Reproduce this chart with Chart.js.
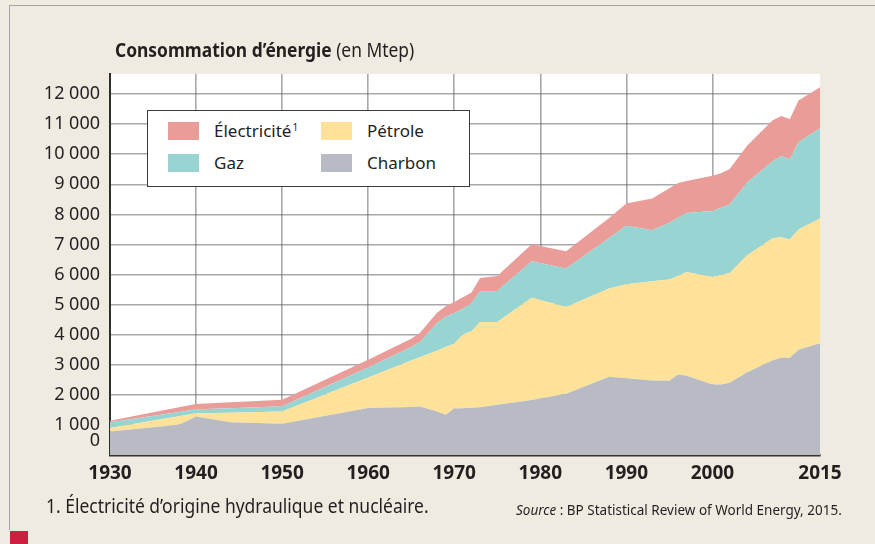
<!DOCTYPE html>
<html lang="fr">
<head>
<meta charset="utf-8">
<title>Consommation d'énergie</title>
<script src="https://cdn.jsdelivr.net/npm/chart.js@4.4.1/dist/chart.umd.min.js"></script>
<style>
  html, body { margin: 0; padding: 0; }
  body {
    width: 875px; height: 544px; position: relative; overflow: hidden;
    background: #efebe1; color: #231f20;
    font-family: 'Noto Sans', sans-serif;
  }
  .frame {
    position: absolute; left: 9px; top: 5px; right: 0; bottom: 14px;
    border-top: 1.5px solid #a4a4a4; border-left: 1.5px solid #a4a4a4;
  }
  .mark { position: absolute; left: 10px; top: 531px; width: 18px; height: 13px; background: #c9213f; }
  #chart { position: absolute; left: 0; top: 0; }
  #title {
    position: absolute; left: 115px; top: 41px; white-space: nowrap;
    font-size: 19px; line-height: 19px; transform: scaleX(0.915); transform-origin: left top;
  }
  #title b { font-weight: 700; }
  #legend {
    position: absolute; left: 147px; top: 110px; width: 301px; height: 64px;
    padding: 11px 0 0 20px;
    box-sizing: content-box; background: #fff; border: 1.5px solid #3a3a3a;
    display: grid; grid-auto-flow: column;
    grid-template-rows: 18px 18px; grid-template-columns: 153px auto;
    row-gap: 14px;
  }
  .item { display: flex; align-items: center; font-size: 17px; line-height: 18px; white-space: nowrap; }
  .item .sw { width: 31px; height: 18px; margin-right: 15px; flex: none; }
  .item sup { font-size: 10px; vertical-align: 6px; line-height: 0; margin-left: 1px; }
  #note {
    position: absolute; left: 46px; top: 497px; white-space: nowrap;
    font-size: 19px; line-height: 19px; transform: scaleX(0.92); transform-origin: left top;
  }
  #source {
    position: absolute; left: 516px; top: 502px; white-space: nowrap;
    font-size: 15px; line-height: 15px; transform: scaleX(0.9); transform-origin: left top;
  }
</style>
</head>
<body>
<div class="frame"></div>
<canvas id="chart" width="875" height="544"></canvas>
<div id="title"><b>Consommation d’énergie</b> (en Mtep)</div>
<div id="legend"></div>
<div id="note">1. Électricité d’origine hydraulique et nucléaire.</div>
<div id="source"><i>Source</i> : BP Statistical Review of World Energy, 2015.</div>
<div class="mark"></div>

<script>
// années (la dernière valeur = bord droit du graphique)
const years = [1930, 1938, 1940, 1944, 1950, 1960, 1965, 1966, 1968, 1969, 1970, 1971, 1972, 1973, 1975,
               1979, 1983, 1988, 1990, 1993, 1995, 1996, 1997, 2000, 2001, 2002, 2004, 2007, 2008, 2009,
               2010, 2012.5];

// Mtep par source
const charbon = [780, 1010, 1277, 1090, 1040, 1560, 1600, 1610, 1450, 1340, 1550, 1555, 1570, 1590, 1670,
                 1830, 2033, 2600, 2550, 2477, 2467, 2680, 2633, 2343, 2343, 2400, 2743, 3150, 3233, 3233,
                 3500, 3720];
const petrole = [120, 280, 113, 317, 410, 1020, 1540, 1640, 2020, 2250, 2150, 2455, 2540, 2830, 2750,
                 3403, 2885, 2933, 3127, 3300, 3373, 3273, 3454, 3577, 3644, 3653, 3890, 4060, 4007, 3934,
                 4000, 4147];
const gaz = [190, 144, 130, 149, 175, 330, 450, 510, 920, 1010, 1020, 850, 940, 1023, 1033,
             1210, 1282, 1680, 1943, 1700, 1880, 1937, 1963, 2190, 2233, 2280, 2420, 2557, 2703, 2666,
             2900, 3000];
const electricite = [50, 154, 180, 200, 215, 260, 280, 300, 340, 350, 370, 390, 350, 444, 500,
                     567, 577, 672, 747, 1056, 1150, 1153, 1060, 1177, 1150, 1180, 1224, 1366, 1334, 1344,
                     1387, 1366];

const xTickLabels = ['1930', '1940', '1950', '1960', '1970', '1980', '1990', '2000', '2015'];
const yTickValues = [0, 1000, 2000, 3000, 4000, 5000, 6000, 7000, 8000, 9000, 10000, 11000, 12000];
const yMax = 12670;

function points(values) {
    return years.map((yr, i) => ({ x: yr, y: values[i] }));
}

function formatThousands(v) {
    return String(v).replace(/\B(?=(\d{3})+(?!\d))/g, ' ');
}

const plotBackground = {
    id: 'plotBackground',
    beforeDraw(chart) {
        const { ctx, chartArea: a } = chart;
        ctx.save();
        ctx.fillStyle = '#ffffff';
        ctx.fillRect(a.left, a.top, a.right - a.left, a.bottom - a.top);
        ctx.restore();
    }
};

const gridColor = 'rgba(95, 95, 105, 0.55)';

Chart.defaults.font.family = "'Noto Sans', sans-serif";
Chart.defaults.color = '#231f20';

const chart = new Chart(document.getElementById('chart'), {
    type: 'line',
    data: {
        datasets: [
            { label: 'Charbon', data: points(charbon), backgroundColor: '#b8bbc4', fill: 'origin' },
            { label: 'Pétrole', data: points(petrole), backgroundColor: '#fee299', fill: '-1' },
            { label: 'Gaz', data: points(gaz), backgroundColor: '#98d5d2', fill: '-1' },
            { label: 'Électricité', note: '1', data: points(electricite), backgroundColor: '#e99c98', fill: '-1' }
        ].map(ds => Object.assign(ds, {
            borderColor: 'rgba(0,0,0,0)', borderWidth: 0, pointRadius: 0, tension: 0
        }))
    },
    options: {
        responsive: false,
        animation: false,
        devicePixelRatio: 1,
        layout: { padding: { left: 0, right: 55, top: 74, bottom: 0 } },
        plugins: {
            legend: { display: false },
            tooltip: { enabled: false },
            title: { display: false }
        },
        scales: {
            x: {
                type: 'linear',
                z: 1,
                min: years[0],
                max: years[years.length - 1],
                afterBuildTicks: s => {
                    const last = xTickLabels.length - 1;
                    s.ticks = xTickLabels.map((lab, i) => ({ value: i === last ? s.max : Number(lab) }));
                },
                afterFit: s => { s.height = 89; },
                grid: {
                    drawTicks: false,
                    lineWidth: 1.6,
                    color: c => (c.tick && c.tick.value === years[years.length - 1]) ? 'rgba(0,0,0,0)' : gridColor
                },
                border: { color: '#333333', width: 2.5 },
                ticks: {
                    autoSkip: false,
                    maxRotation: 0,
                    padding: 7,
                    font: { size: 19, weight: 'bold' },
                    color: '#231f20',
                    callback: (v, i) => xTickLabels[i]
                }
            },
            y: {
                stacked: true,
                z: 1,
                min: 0,
                max: yMax,
                afterBuildTicks: s => { s.ticks = yTickValues.map(v => ({ value: v })); },
                afterFit: s => { s.width = 110; },
                grid: { drawTicks: false, lineWidth: 1.6, color: gridColor },
                border: { color: '#2e2e2e', width: 2 },
                ticks: {
                    autoSkip: false,
                    padding: 10,
                    font: { size: 18, lineHeight: 1.6 },
                    color: '#231f20',
                    callback: v => v === 0 ? ['0', ''] : formatThousands(v)
                }
            }
        }
    },
    plugins: [plotBackground]
});

// légende HTML construite à partir des jeux de données (du haut de la pile vers le bas)
function buildLegend(c) {
    const box = document.getElementById('legend');
    c.data.datasets.slice().reverse().forEach(ds => {
        const item = document.createElement('div');
        item.className = 'item';
        const sw = document.createElement('span');
        sw.className = 'sw';
        sw.style.background = ds.backgroundColor;
        const txt = document.createElement('span');
        txt.textContent = ds.label;
        if (ds.note) {
            const sup = document.createElement('sup');
            sup.textContent = ds.note;
            txt.appendChild(sup);
        }
        item.appendChild(sw);
        item.appendChild(txt);
        box.appendChild(item);
    });
}
buildLegend(chart);
</script>
</body>
</html>
